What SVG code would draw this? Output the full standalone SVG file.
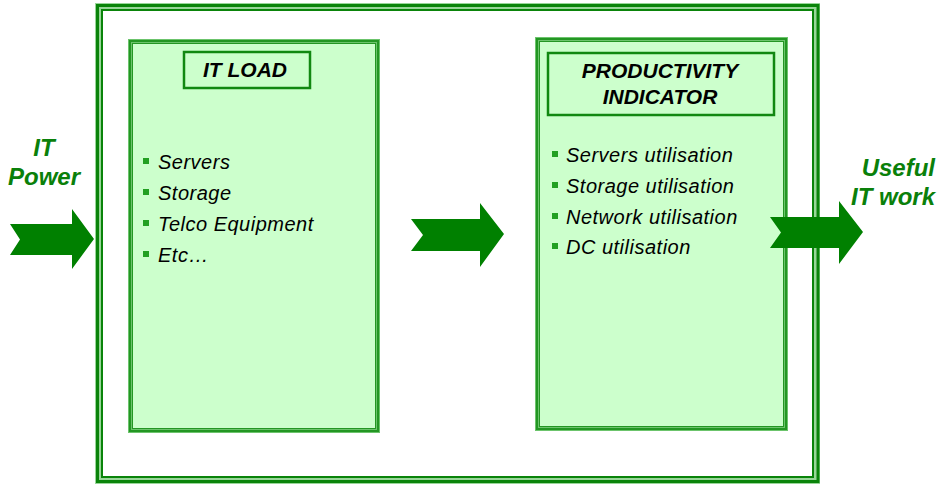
<svg xmlns="http://www.w3.org/2000/svg" width="942" height="485" viewBox="0 0 942 485">
<style>
.fl{fill:none;stroke:#99d699;stroke-width:8}
.fd1{fill:none;stroke:#0a840a;stroke-width:3}
.fd2{fill:none;stroke:#0a840a;stroke-width:2}
.pl{fill:#ccffcc;stroke:#6cc46c;stroke-width:5}
.pd1{fill:none;stroke:#239623;stroke-width:2}
.pd2{fill:none;stroke:#239623;stroke-width:1}
.tb{fill:#ccffcc;stroke:#118811;stroke-width:2.5}
.tt{font-family:"Liberation Sans",Arial,sans-serif;font-weight:bold;font-style:italic;font-size:21px;fill:#000;text-anchor:middle}
.li{font-family:"Liberation Sans",Arial,sans-serif;font-style:italic;font-size:20px;letter-spacing:0.5px;fill:#000}
.bu{fill:#22a022}
.gt{font-family:"Liberation Sans",Arial,sans-serif;font-weight:bold;font-style:italic;font-size:24px;fill:#0a800a}
.ar{fill:#008000}
</style>
<g id="frame">
<rect class="fl" x="99" y="7" width="717" height="473"/>
<rect class="fd1" x="97.5" y="5.5" width="720.5" height="476"/>
<rect class="fd2" x="102" y="10" width="711" height="467"/>
</g>
<g id="it-load">
<rect class="pl" x="130.5" y="41.5" width="247" height="389"/>
<rect class="pd1" x="130" y="41" width="248" height="390"/>
<rect class="pd2" x="132.5" y="43.5" width="243" height="385"/>
<rect class="tb" x="184" y="52" width="126" height="36"/>
<text class="tt" x="245" y="77">IT LOAD</text>
<rect class="bu" x="143" y="158" width="6" height="6"/>
<text class="li" x="158" y="169">Servers</text>
<rect class="bu" x="143" y="189" width="6" height="6"/>
<text class="li" x="158" y="200">Storage</text>
<rect class="bu" x="143" y="220" width="6" height="6"/>
<text class="li" x="158" y="231">Telco Equipment</text>
<rect class="bu" x="143" y="251" width="6" height="6"/>
<text class="li" x="158" y="262">Etc…</text>
</g>
<g id="productivity-indicator">
<rect class="pl" x="537.5" y="39.5" width="248" height="389"/>
<rect class="pd1" x="537" y="39" width="249" height="390"/>
<rect class="pd2" x="539.5" y="41.5" width="244" height="385"/>
<rect class="tb" x="548" y="53" width="226" height="62"/>
<text class="tt" x="660" y="78">PRODUCTIVITY</text>
<text class="tt" x="660" y="104">INDICATOR</text>
<rect class="bu" x="552" y="151" width="6" height="6"/>
<text class="li" x="566" y="162">Servers utilisation</text>
<rect class="bu" x="552" y="182" width="6" height="6"/>
<text class="li" x="566" y="193">Storage utilisation</text>
<rect class="bu" x="552" y="213" width="6" height="6"/>
<text class="li" x="566" y="224">Network utilisation</text>
<rect class="bu" x="552" y="243" width="6" height="6"/>
<text class="li" x="566" y="254">DC utilisation</text>
</g>
<g id="it-power">
<text class="gt" x="44" y="156" text-anchor="middle">IT</text>
<text class="gt" x="44" y="185" text-anchor="middle">Power</text>
</g>
<g id="useful-it-work">
<text class="gt" x="935" y="176" text-anchor="end">Useful</text>
<text class="gt" x="935" y="205" text-anchor="end">IT work</text>
</g>
<g id="connectors">
<polygon class="ar" points="10,224 72,224 72,209 94,239 72,269 72,255 10,255 20,239.5"/>
<polygon class="ar" points="411,219 480,219 480,203 504,234 480,267 480,251 411,251 423,235"/>
<polygon class="ar" points="770,217 839,217 839,201 863,232 839,264 839,248 770,248 781,232.5"/>
</g>
</svg>
